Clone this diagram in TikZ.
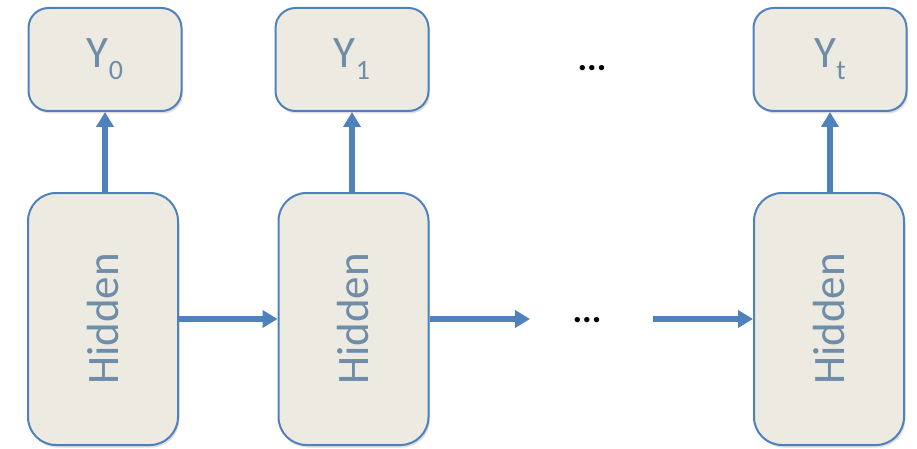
\documentclass[tikz,border=0pt]{standalone}
\usepackage{fontspec}
\setmainfont{Carlito}
\usepackage{xcolor}
\usepackage{tikz}
\usetikzlibrary{arrows.meta}
\usetikzlibrary{positioning}
\usetikzlibrary{shadows}
\definecolor{boxfill}{HTML}{EDEBE1}
\definecolor{boxdraw}{HTML}{4F81BD}
\definecolor{boxtext}{HTML}{6F8DA8}
\tikzstyle{cell} = [rectangle, draw=boxdraw, fill=boxfill, line width=2pt,
    text=boxtext, font=\fontsize{45}{50}\selectfont,
    drop shadow={shadow xshift=1.5pt, shadow yshift=-2.5pt, opacity=0.25}]
\tikzstyle{hidden} = [cell, minimum width=150pt, minimum height=252pt,
    rounded corners=28pt]
\tikzstyle{output} = [cell, minimum width=153pt, minimum height=103pt,
    rounded corners=20pt]
\tikzstyle{dots} = [font=\fontsize{36}{38}\selectfont\bfseries, inner sep=0pt]
\tikzstyle{line} = [draw=boxdraw, line width=6pt,
    -{Triangle[length=15pt, width=17pt]}]
\newcommand{\outlabel}[1]{Y\raisebox{-12pt}{\fontsize{28}{30}\selectfont #1}}

\begin{document}
\begin{tikzpicture}[x=1pt, y=-1pt]
  \useasboundingbox (0,0) rectangle (917,449);
  % Place nodes
  \node [hidden] (hid0) at (103,319) {\rotatebox{90}{Hidden}};
  \node [hidden] (hid1) at (353.5,319) {\rotatebox{90}{Hidden}};
  \node [hidden] (hidt) at (829,319) {\rotatebox{90}{Hidden}};
  \node [output] (out0) at (105,59.5) {\outlabel{0}};
  \node [output] (out1) at (352,59.5) {\outlabel{1}};
  \node [output] (outt) at (830,59.5) {\outlabel{t}};
  \node [dots] (dotstop) at (592,68) {...};
  \node [dots] (dotsmid) at (587,320) {...};
  \coordinate (gapin) at (530,319);
  \coordinate (gapout) at (653,319);

  % Draw edges
  \path [line] (hid0.east) -- (hid1.west);
  \path [line] (hid1.east) -- (gapin);
  \path [line] (gapout) -- (hidt.west);
  \path [line] (hid0.north -| out0.south) -- (out0.south);
  \path [line] (hid1.north -| out1.south) -- (out1.south);
  \path [line] (hidt.north -| outt.south) -- (outt.south);
\end{tikzpicture}
\end{document}
